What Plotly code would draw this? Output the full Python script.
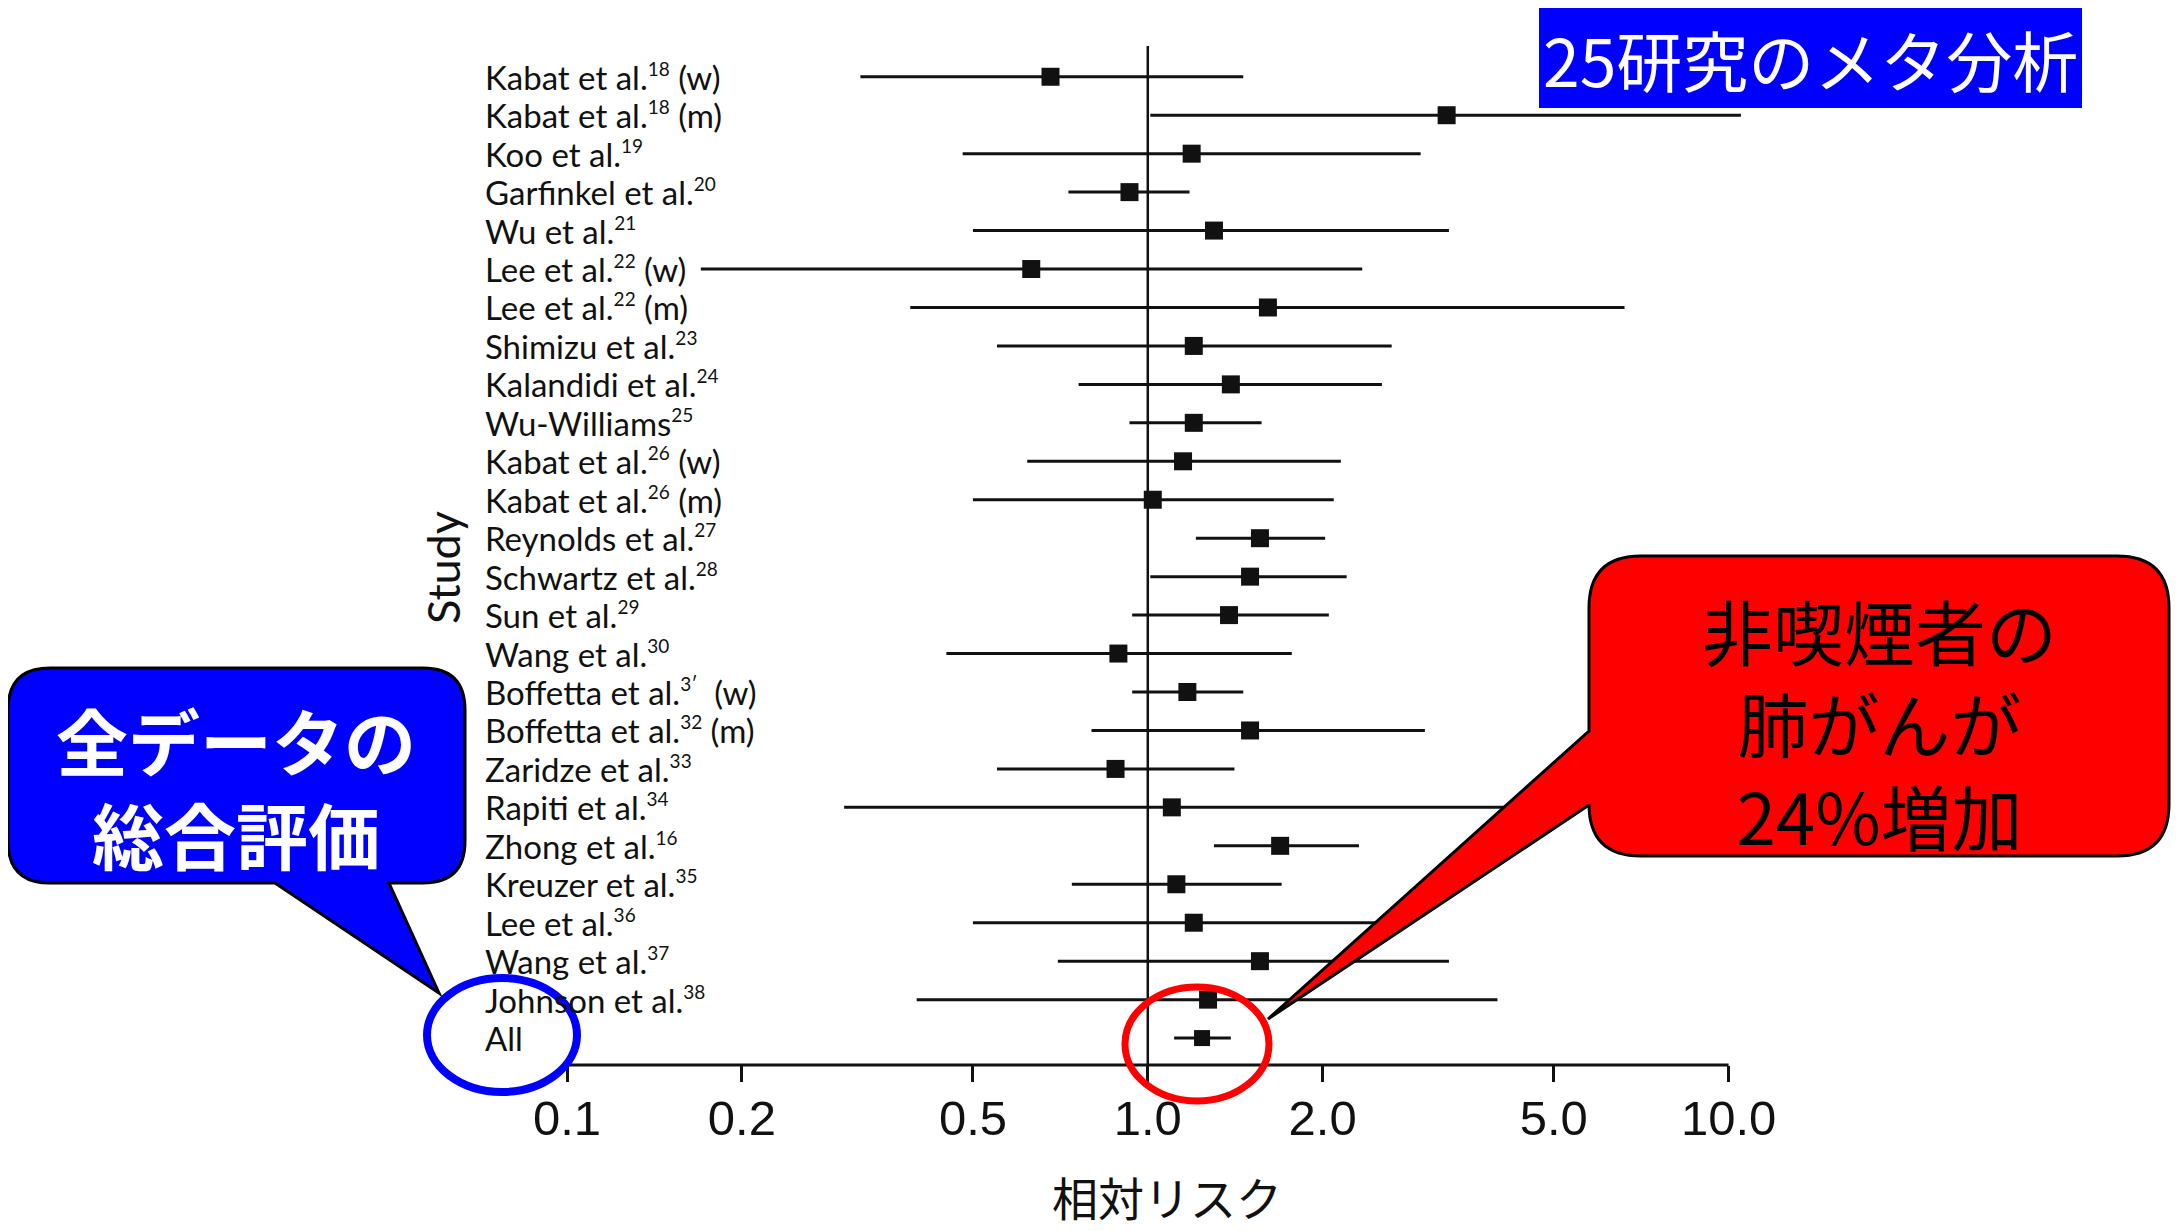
import plotly.graph_objects as go

# ---------------- data ----------------
studies = [
    "Kabat 18 w", "Kabat 18 m", "Koo 19", "Garfinkel 20", "Wu 21", "Lee 22 w", "Lee 22 m",
    "Shimizu 23", "Kalandidi 24", "Wu-Williams 25", "Kabat 26 w", "Kabat 26 m", "Reynolds 27",
    "Schwartz 28", "Sun 29", "Wang 30", "Boffetta 31 w", "Boffetta 32 m", "Zaridze 33",
    "Rapiti 34", "Zhong 16", "Kreuzer 35", "Lee 36", "Wang 37", "Johnson 38", "All",
]
names = [
    "Kabat et al.", "Kabat et al.", "Koo et al.", "Garfinkel et al.", "Wu et al.", "Lee et al.",
    "Lee et al.", "Shimizu et al.", "Kalandidi et al.", "Wu-Williams", "Kabat et al.",
    "Kabat et al.", "Reynolds et al.", "Schwartz et al.", "Sun et al.", "Wang et al.",
    "Boffetta et al.", "Boffetta et al.", "Zaridze et al.", "Rapiti et al.", "Zhong et al.",
    "Kreuzer et al.", "Lee et al.", "Wang et al.", "Johnson et al.", "All",
]
refs = ["18", "18", "19", "20", "21", "22", "22", "23", "24", "25", "26", "26", "27",
        "28", "29", "30", "3ʹ", "32", "33", "34", "16", "35", "36", "37", "38", ""]
suffixes = [" (w)", " (m)", "", "", "", " (w)", " (m)", "", "", "", " (w)", " (m)", "",
            "", "", "", "  (w)", " (m)", "", "", "", "", "", "", "", ""]
rr = [0.68, 3.27, 1.19, 0.93, 1.30, 0.63, 1.61, 1.20, 1.39, 1.20, 1.15, 1.02, 1.56,
      1.50, 1.38, 0.89, 1.17, 1.50, 0.88, 1.10, 1.69, 1.12, 1.20, 1.56, 1.27, 1.24]
lo = [0.32, 1.01, 0.48, 0.73, 0.50, 0.17, 0.39, 0.55, 0.76, 0.93, 0.62, 0.50, 1.21,
      1.01, 0.94, 0.45, 0.94, 0.80, 0.55, 0.30, 1.30, 0.74, 0.50, 0.70, 0.40, 1.11]
hi = [1.46, 10.5, 2.95, 1.18, 3.30, 2.34, 6.62, 2.63, 2.53, 1.57, 2.15, 2.09, 2.02,
      2.20, 2.05, 1.77, 1.46, 3.00, 1.41, 4.50, 2.31, 1.70, 2.50, 3.30, 4.00, 1.39]
tick_vals = [0.1, 0.2, 0.5, 1.0, 2.0, 5.0, 10.0]
tick_text = ["0.1", "0.2", "0.5", "1.0", "2.0", "5.0", "10.0"]
x_title = "相対リスク"
y_title = "Study"
box_title = "25研究のメタ分析"
blue_lines = ["全データの", "総合評価"]
red_lines = ["非喫煙者の", "肺がんが", "24%増加"]

# ---------------- layout geometry ----------------
OFF = 8  # page body margin
FIG_W, FIG_H = 2179 - OFF, 1231 - OFF
L = 567 - OFF
T = 46 - OFF
B = FIG_H - (1065 - OFF)
XR = [-1.0, 1.03]
W = 1179
R = FIG_W - L - W
H = FIG_H - T - B

CJK = "Noto Sans CJK JP"
LAB = "Lato"
INK = "#111111"


def px(X):
    return (X - OFF - L) / W


def py(Y):
    return 1 - (Y - OFF - T) / H


def P(X, Y):
    return f"{px(X):.5f},{py(Y):.5f}"


def label_html(name, ref, suf):
    sup = f"<sup><span style='font-size:19px'>{ref}</span></sup>" if ref else ""
    return f"{name}{sup}{suf}"


err_plus = [h - r for h, r in zip(hi, rr)]
err_minus = [r - l for r, l in zip(rr, lo)]
sizes = [18] * (len(rr) - 1) + [16]

fig = go.Figure()
fig.add_trace(go.Scatter(
    x=rr, y=studies, mode="markers",
    marker=dict(symbol="square", size=sizes, color=INK, opacity=1, line=dict(width=0)),
    error_x=dict(type="data", symmetric=False, array=err_plus, arrayminus=err_minus,
                 thickness=3, width=0, color=INK),
    hoverinfo="skip", showlegend=False,
))

shapes = []
# reference line at RR = 1
shapes.append(dict(type="line", xref="x", yref="paper", x0=1, x1=1, y0=0, y1=1,
                   line=dict(color=INK, width=2.5), layer="below"))
# axis baseline from 0.1 to 10
shapes.append(dict(type="line", xref="x", yref="paper", x0=0.1, x1=10, y0=0, y1=0,
                   line=dict(color=INK, width=3)))

# top blue title box
shapes.append(dict(type="rect", xref="paper", yref="paper",
                   x0=px(1539), x1=px(2082), y0=py(108), y1=py(7),
                   fillcolor="#0000FF", line=dict(width=0)))

# blue callout (rounded rect + tail at bottom)
r = 42
bx0, bx1, by0, by1 = 8, 465, 668, 883
blue_path = (
    f"M {P(bx0 + r, by0)} L {P(bx1 - r, by0)} Q {P(bx1, by0)} {P(bx1, by0 + r)} "
    f"L {P(bx1, by1 - r)} Q {P(bx1, by1)} {P(bx1 - r, by1)} "
    f"L {P(389, by1)} L {P(439, 993)} L {P(275, by1)} "
    f"L {P(bx0 + r, by1)} Q {P(bx0, by1)} {P(bx0, by1 - r)} "
    f"L {P(bx0, by0 + r)} Q {P(bx0, by0)} {P(bx0 + r, by0)} Z"
)
shapes.append(dict(type="path", xref="paper", yref="paper", path=blue_path,
                   fillcolor="#0000FF", line=dict(color="black", width=3)))

# red callout (rounded rect + tail on left)
r = 52
rx0, rx1, ry0, ry1 = 1589, 2169, 556, 856
red_path = (
    f"M {P(rx0 + r, ry0)} L {P(rx1 - r, ry0)} Q {P(rx1, ry0)} {P(rx1, ry0 + r)} "
    f"L {P(rx1, ry1 - r)} Q {P(rx1, ry1)} {P(rx1 - r, ry1)} "
    f"L {P(rx0 + r, ry1)} Q {P(rx0, ry1)} {P(rx0, ry1 - r)} "
    f"L {P(rx0, 805)} L {P(1268, 1019)} L {P(rx0, 731)} "
    f"L {P(rx0, ry0 + r)} Q {P(rx0, ry0)} {P(rx0 + r, ry0)} Z"
)
shapes.append(dict(type="path", xref="paper", yref="paper", path=red_path,
                   fillcolor="#FF0000", line=dict(color="black", width=3)))

# ellipses
shapes.append(dict(type="circle", xref="paper", yref="paper",
                   x0=px(502 - 75), x1=px(502 + 75), y0=py(1035 + 57), y1=py(1035 - 57),
                   line=dict(color="#0000FF", width=8)))
shapes.append(dict(type="circle", xref="paper", yref="paper",
                   x0=px(1197 - 72), x1=px(1197 + 72), y0=py(1044 + 57), y1=py(1044 - 57),
                   line=dict(color="#FF0000", width=7)))

annotations = []
for s, n, rf, sf in zip(studies, names, refs, suffixes):
    annotations.append(dict(xref="paper", yref="y", x=px(483), y=s, text=label_html(n, rf, sf),
                            xanchor="left", yanchor="middle", showarrow=False,
                            font=dict(family=LAB, size=33, color=INK)))
annotations.append(dict(xref="paper", yref="paper", x=px(443), y=py(568), text=y_title,
                        textangle=-90, showarrow=False, xanchor="center", yanchor="middle",
                        font=dict(family=LAB, size=45, color=INK)))
annotations.append(dict(xref="paper", yref="paper", x=px(1167), y=py(1196), text=x_title,
                        showarrow=False, xanchor="center", yanchor="middle",
                        font=dict(family=CJK, size=46, color=INK)))
annotations.append(dict(xref="paper", yref="paper", x=px(1810), y=py(58), text=box_title,
                        showarrow=False, xanchor="center", yanchor="middle",
                        font=dict(family=CJK, size=66, color="white")))
annotations.append(dict(xref="paper", yref="paper", x=px(236), y=py(785),
                        text="<br>".join(blue_lines), align="center",
                        showarrow=False, xanchor="center", yanchor="middle",
                        font=dict(family=CJK, size=72, color="white", weight="bold")))
annotations.append(dict(xref="paper", yref="paper", x=px(1879), y=py(721),
                        text="<br>".join(red_lines), align="center",
                        showarrow=False, xanchor="center", yanchor="middle",
                        font=dict(family=CJK, size=71, color="black")))

fig.update_layout(
    width=FIG_W, height=FIG_H,
    margin=dict(l=L, r=R, t=T, b=B, autoexpand=False),
    paper_bgcolor="white", plot_bgcolor="white",
    showlegend=False,
    xaxis=dict(type="log", range=XR, tickvals=tick_vals, ticktext=tick_text,
               ticks="outside", ticklen=16, tickwidth=2.5, tickcolor=INK,
               showline=False, showgrid=False, zeroline=False, automargin=False,
               ticklabelstandoff=-6,
               tickfont=dict(family="Liberation Sans Narrow, Liberation Sans, Arial", size=49, color=INK)),
    yaxis=dict(type="category", categoryorder="array", categoryarray=studies,
               range=[25.7, -0.8], showticklabels=False, showgrid=False, zeroline=False,
               showline=False, ticks="", automargin=False),
    shapes=shapes, annotations=annotations,
)

fig.write_html("out.html")
